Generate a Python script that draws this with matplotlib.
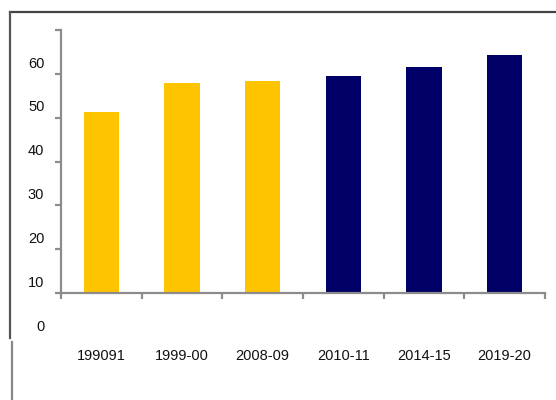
import matplotlib
matplotlib.use("Agg")
from matplotlib import pyplot as plt
from matplotlib.lines import Line2D

plt.rcParams['font.family'] = ['Liberation Sans', 'DejaVu Sans']

# data
years = ["199091", "1999-00", "2008-09", "2010-11", "2014-15", "2019-20"]
values = [48.7, 55.3, 55.7, 56.9, 58.9, 61.6]
bar_colors = ["#FFC400", "#FFC400", "#FFC400", "#000066", "#000066", "#000066"]
y_labels = [0, 10, 20, 30, 40, 50, 60]
base = 7.3   # where the x axis line sits (the original chart is shifted)

fig = plt.figure(figsize=(5.56, 4.0), dpi=100)
ax = fig.add_axes([61 / 556, 0.1655, 484 / 556, 0.767])

x = list(range(len(years)))
heights = [v - base for v in values]
ax.bar(x, heights, bottom=base, width=0.44, color=bar_colors, zorder=2)

ax.set_xlim(-0.5, 5.5)
ax.set_ylim(-2, 68)

# spines
for s in ["top", "right"]:
    ax.spines[s].set_visible(False)
ax.spines["left"].set_bounds(base, base + 60)
ax.spines["bottom"].set_position(("data", base))
for s in ["left", "bottom"]:
    ax.spines[s].set_color("#8c8c8c")
    ax.spines[s].set_linewidth(1.6)

# labels (no tick marks), and tick marks on the spines as minor ticks
ax.set_yticks(y_labels)
ax.set_yticklabels([str(v) for v in y_labels])
ax.set_yticks([base + 10 * k for k in range(7)], minor=True)
ax.set_xticks(x)
ax.set_xticklabels(years)
ax.set_xticks([i - 0.5 for i in range(7)], minor=True)

ax.tick_params(axis="y", which="major", length=0, pad=12, labelsize=10.5, labelcolor="#111111")
ax.tick_params(axis="x", which="major", length=0, pad=40, labelsize=10.5, labelcolor="#111111")
ax.tick_params(axis="both", which="minor", length=4, width=1.6, color="#8c8c8c")

# frame of the original screenshot
fig.add_artist(Line2D([10 / 556, 1], [1 - 12 / 400, 1 - 12 / 400], color="#444444", lw=1.6))
fig.add_artist(Line2D([10 / 556, 10 / 556], [1 - 12 / 400, 1 - 338 / 400], color="#555555", lw=1.6))
fig.add_artist(Line2D([12 / 556, 12 / 556], [1 - 342 / 400, 0], color="#888888", lw=1.6))

plt.savefig("out.png", dpi=100)
